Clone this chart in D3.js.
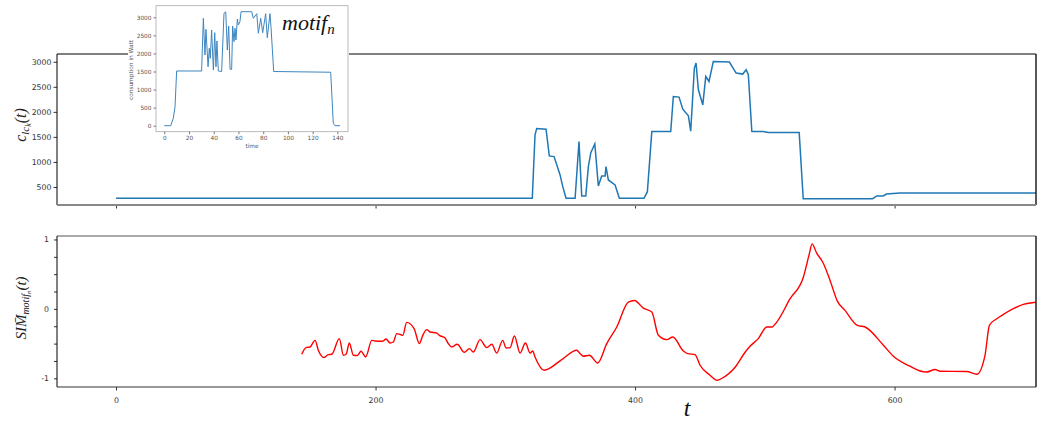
<!DOCTYPE html>
<html>
<head>
<meta charset="utf-8">
<script src="https://cdn.jsdelivr.net/npm/d3@7"></script>
<style>
  body { margin: 0; background: white; }
  text { font-family: "DejaVu Sans", sans-serif; }
  .math { font-family: "Liberation Serif", "DejaVu Serif", serif; font-style: italic; }
</style>
</head>
<body>
<div id="chart"></div>
<script>
// consumption of the light-cycle (top panel)
var consT = [0, 320.8, 322.9, 324.2, 331.4, 333.9, 337.6, 342.2, 344.3, 346.8, 353.8, 356.8, 358.9, 362, 364, 365.9, 369,
  371.7, 374.3, 376.9, 377.6, 379.4, 384.6, 387.9, 406.9, 409.5, 412.9, 427.5, 429.5, 433.9, 436.8, 441.1, 442.9,
  445.7, 447, 448.8, 452.2, 454.5, 457, 460.3, 472.7, 477.9, 483, 485.6, 487.3, 490, 498.8, 502.7, 526.5, 529.6,
  583.1, 586.2, 591.2, 593.8, 604.2, 709]
var consV = [275, 275, 1540, 1666, 1654, 1120, 1106, 740, 506, 275, 275, 1406, 320, 320, 906, 1186, 1360,
  520, 720, 720, 906, 640, 540, 275, 275, 406, 1606, 1606, 2306, 2294, 2054, 1920, 1614,
  2874, 2974, 2440, 2140, 2706, 2606, 3006, 2994, 2774, 2754, 2840, 2740, 1606, 1606, 1586, 1586, 266,
  266, 320, 320, 360, 380, 380]

// similarity curve (bottom panel)
var simT = [143.1, 146.4, 149.5, 153.4, 155.9, 160.3, 163.6, 166.2, 172.1, 175.2, 177.3, 179.8, 182.9, 186, 188.8,
  192.4, 197.1, 199.6, 205.2, 208.1, 211.2, 213.7, 216.3, 221, 224, 229.7, 233.8, 236.4, 239.5, 242, 247.2, 249.2,
  253.6, 256.1, 258.7, 263, 268.4, 272.3, 275.4, 280.5, 285.7, 289.6, 293.4, 298, 300.6, 303.7, 307, 311.4, 315.5,
  319.1, 321.1, 322.9, 329.9, 343.5, 355.1, 357.6, 360.1, 364.8, 371.2, 378.2, 385.9, 394.8, 399.5, 406.4, 412.9,
  418, 424.4, 429.1, 437.2, 440.6, 446.2, 450.1, 457.8, 463.2, 467, 477.1, 484.8, 488.6, 495, 501.5, 505.4, 509.2,
  519.5, 529.7, 534.3, 536.4, 540, 544.7, 550.3, 555.9, 561.8, 571.3, 577.3, 591.4, 599.1, 611.9, 619.7, 624.8,
  631.2, 635.1, 655.6, 663.4, 669.7, 673.1, 678.8, 683.9, 691.5, 699.3, 709.6]
var simV = [-0.654, -0.557, -0.549, -0.453, -0.596, -0.701, -0.658, -0.654, -0.428, -0.668, -0.654, -0.491, -0.668, -0.672, -0.611,
  -0.693, -0.453, -0.463, -0.467, -0.434, -0.491, -0.477, -0.356, -0.381, -0.194, -0.284, -0.5, -0.381, -0.299, -0.333, -0.348, -0.381,
  -0.42, -0.5, -0.549, -0.51, -0.625, -0.572, -0.621, -0.443, -0.557, -0.51, -0.635, -0.453, -0.563, -0.557, -0.391, -0.635, -0.491,
  -0.635, -0.606, -0.693, -0.884, -0.73, -0.596, -0.644, -0.682, -0.668, -0.779, -0.5, -0.261, 0.098, 0.122, 0.011, -0.046,
  -0.381, -0.443, -0.405, -0.606, -0.644, -0.658, -0.812, -0.955, -1.027, -0.999, -0.841, -0.625, -0.539, -0.428, -0.261, -0.261, -0.19,
  0.147, 0.457, 0.793, 0.937, 0.802, 0.672, 0.409, 0.112, -0.022, -0.237, -0.261, -0.524, -0.682, -0.826, -0.894, -0.908,
  -0.874, -0.898, -0.902, -0.941, -0.668, -0.237, -0.141, -0.079, 0.003, 0.065, 0.098]

// motif (inset)
var motifT = [0, 5.2, 7.3, 8.7, 10, 30.2, 31.6, 32.9, 33.7, 35.4, 36.4, 37.2, 38.3, 39.7, 40.8, 41.8, 42.6, 43.7, 46.4,
  48.3, 49.7, 51, 52.1, 53.2, 54.5, 55.3, 56.4, 57.2, 58, 59.1, 59.9, 61.2, 62.1, 70.7, 72, 74.8, 76.1, 78, 79.6,
  82, 83.3, 85.5, 86.3, 88.5, 134.6, 136.7, 138.1, 142.2]
var motifV = [0, 0, 205, 526, 1514, 1514, 2972, 1957, 2667, 1633, 2142, 1865, 2649, 1541, 2574, 1633, 2344, 1514, 1500,
  3111, 3150, 2095, 2759, 1561, 1561, 2759, 2325, 2695, 2372, 2953, 2787, 2879, 3155, 3155, 2972, 3100, 2557, 2972, 2574,
  3100, 2436, 3100, 2740, 1500, 1480, 66, 0, 0]

var xTicks = [0, 200, 400, 600]
var topTicks = [500, 1000, 1500, 2000, 2500, 3000]
var botTicks = [-1, -0.75, -0.5, -0.25, 0, 0.25, 0.5, 0.75, 1]
var inXTicks = [0, 20, 40, 60, 80, 100, 120, 140]
var inYTicks = [0, 500, 1000, 1500, 2000, 2500, 3000]

var width = 1041, height = 423

var svg = d3.select('#chart').append('svg')
  .attr('width', width)
  .attr('height', height)

var x = d3.scaleLinear().domain([-45.5, 709]).range([57, 1036])
var yTop = d3.scaleLinear().domain([140, 3155]).range([205, 54])
var yBot = d3.scaleLinear().domain([-1.125, 1.05]).range([387, 236])

svg.append('clipPath').attr('id', 'clipTop')
  .append('rect').attr('x', 57).attr('y', 54).attr('width', 979).attr('height', 151)
svg.append('clipPath').attr('id', 'clipBot')
  .append('rect').attr('x', 57).attr('y', 236).attr('width', 979).attr('height', 151)

function styleAxis(g, col) {
  g.select('.domain').remove()
  g.selectAll('.tick line').attr('stroke', col)
  g.selectAll('.tick text').attr('fill', '#333').attr('font-size', 7.8)
}

// ---- top panel
var consData = consT.map(function (t, i) { return [t, consV[i]] })
svg.append('path')
  .datum(consData)
  .attr('clip-path', 'url(#clipTop)')
  .attr('fill', 'none')
  .attr('stroke', '#1f77b4')
  .attr('stroke-width', 1.5)
  .attr('d', d3.line().x(function (d) { return x(d[0]) }).y(function (d) { return yTop(d[1]) }))

svg.append('g').attr('transform', 'translate(57,0)')
  .call(d3.axisLeft(yTop).tickValues(topTicks).tickSize(3.5).tickPadding(2).tickFormat(d3.format('d')))
  .call(styleAxis, '#333')
svg.append('g').attr('transform', 'translate(0,205)')
  .call(d3.axisBottom(x).tickValues(xTicks).tickSize(3.5).tickFormat(''))
  .call(styleAxis, '#333')

svg.append('line').attr('x1', 57).attr('x2', 1036).attr('y1', 54).attr('y2', 54).attr('stroke', '#000')
svg.append('line').attr('x1', 57).attr('x2', 57).attr('y1', 54).attr('y2', 205).attr('stroke', '#000')
svg.append('line').attr('x1', 1036).attr('x2', 1036).attr('y1', 54).attr('y2', 205).attr('stroke', '#222').attr('stroke-width', 1.5)
svg.append('line').attr('x1', 57).attr('x2', 1036).attr('y1', 205).attr('y2', 205).attr('stroke', '#888').attr('stroke-width', 2)

// ---- bottom panel
var simData = simT.map(function (t, i) { return [t, simV[i]] })
svg.append('path')
  .datum(simData)
  .attr('clip-path', 'url(#clipBot)')
  .attr('fill', 'none')
  .attr('stroke', '#ff0000')
  .attr('stroke-width', 1.4)
  .attr('d', d3.line().curve(d3.curveMonotoneX).x(function (d) { return x(d[0]) }).y(function (d) { return yBot(d[1]) }))

svg.append('g').attr('transform', 'translate(57,0)')
  .call(d3.axisLeft(yBot).tickValues(botTicks).tickSize(3).tickPadding(5)
    .tickFormat(function (d) { return Number.isInteger(d) ? String(d) : '' }))
  .call(styleAxis, '#333')
svg.append('g').attr('transform', 'translate(0,387)')
  .call(d3.axisBottom(x).tickValues(xTicks).tickSize(3.5).tickPadding(7).tickFormat(d3.format('d')))
  .call(styleAxis, '#333')

svg.append('line').attr('x1', 57).attr('x2', 1036).attr('y1', 236).attr('y2', 236).attr('stroke', '#555')
svg.append('line').attr('x1', 57).attr('x2', 57).attr('y1', 236).attr('y2', 387).attr('stroke', '#000')
svg.append('line').attr('x1', 1036).attr('x2', 1036).attr('y1', 236).attr('y2', 387).attr('stroke', '#222').attr('stroke-width', 1.5)
svg.append('line').attr('x1', 57).attr('x2', 1036).attr('y1', 387).attr('y2', 387).attr('stroke', '#333').attr('stroke-width', 1.2)

// ---- axis labels
var lab1 = svg.append('text').attr('class', 'math')
  .attr('transform', 'translate(26,125) rotate(-90)')
  .attr('text-anchor', 'middle').attr('font-size', 16).attr('fill', '#222')
lab1.append('tspan').text('c')
lab1.append('tspan').attr('font-size', 11).attr('dy', 3).text('lc')
lab1.append('tspan').attr('font-size', 8).attr('dy', 2).text('k')
lab1.append('tspan').attr('dy', -5).text('(t)')

var lab2 = svg.append('text').attr('class', 'math')
  .attr('transform', 'translate(26,308) rotate(-90)')
  .attr('text-anchor', 'middle').attr('font-size', 15).attr('fill', '#222')
lab2.append('tspan').text('SIM\u0304')
lab2.append('tspan').attr('font-size', 10).attr('dy', 3).text('motif')
lab2.append('tspan').attr('font-size', 7).attr('dy', 2).text('n')
lab2.append('tspan').attr('dy', -5).text('(t)')

svg.append('text').attr('class', 'math')
  .attr('x', 687).attr('y', 416)
  .attr('text-anchor', 'middle').attr('font-size', 24).attr('fill', '#111')
  .text('t')

// ---- inset
var ins = svg.append('g')
ins.append('rect').attr('x', 128).attr('y', 0).attr('width', 221).attr('height', 152).attr('fill', 'white')

var xIn = d3.scaleLinear().domain([-6.7, 148.6]).range([156, 348])
var yIn = d3.scaleLinear().domain([-166, 3321]).range([131.7, 5.7])

var motifData = motifT.map(function (t, i) { return [t, motifV[i]] })
ins.append('path')
  .datum(motifData)
  .attr('fill', 'none')
  .attr('stroke', '#3d85c0')
  .attr('stroke-width', 1)
  .attr('d', d3.line().x(function (d) { return xIn(d[0]) }).y(function (d) { return yIn(d[1]) }))

ins.append('rect').attr('x', 156).attr('y', 5.7).attr('width', 192).attr('height', 126)
  .attr('fill', 'none').attr('stroke', '#aaa').attr('stroke-width', 0.8)

function styleInset(g) {
  g.select('.domain').remove()
  g.selectAll('.tick line').attr('stroke', '#777')
  g.selectAll('.tick text').attr('fill', '#555').attr('font-size', 5.8)
}
ins.append('g').attr('transform', 'translate(0,131.7)')
  .call(d3.axisBottom(xIn).tickValues(inXTicks).tickSize(2.5).tickPadding(2))
  .call(styleInset)
ins.append('g').attr('transform', 'translate(156,0)')
  .call(d3.axisLeft(yIn).tickValues(inYTicks).tickSize(2.5).tickPadding(2).tickFormat(d3.format('d')))
  .call(styleInset)

ins.append('text').attr('x', 252).attr('y', 148)
  .attr('text-anchor', 'middle').attr('font-size', 5.8).attr('fill', '#555').text('time')
ins.append('text').attr('transform', 'translate(133,70) rotate(-90)')
  .attr('text-anchor', 'middle').attr('font-size', 5.8).attr('fill', '#555').text('consumption in Watt')

var mt = ins.append('text').attr('class', 'math')
  .attr('x', 282).attr('y', 30).attr('font-size', 22).attr('fill', '#111')
mt.append('tspan').text('motif')
mt.append('tspan').attr('font-size', 15).attr('dy', 4).text('n')
</script>
</body>
</html>
